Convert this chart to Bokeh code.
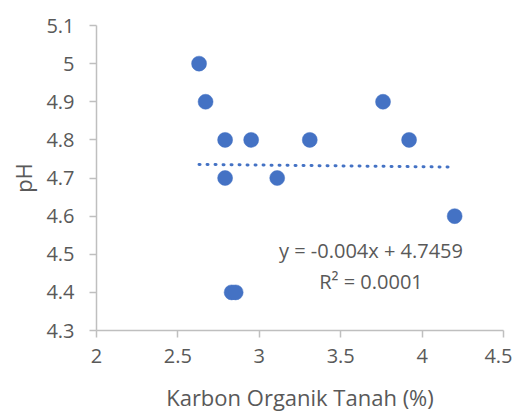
import numpy as np
from bokeh.plotting import figure
from bokeh.models import FixedTicker, ColumnDataSource
from bokeh.embed import file_html
from bokeh.resources import INLINE

# Data
karbon = [2.63, 2.67, 2.79, 2.79, 2.83, 2.855, 2.95, 3.11, 3.31, 3.76, 3.92, 4.2]
ph = [5.0, 4.9, 4.8, 4.7, 4.4, 4.4, 4.8, 4.7, 4.8, 4.9, 4.8, 4.6]

x_ticks = [2, 2.5, 3, 3.5, 4, 4.5]
x_tick_labels = ["2", "2.5", "3", "3.5", "4", "4.5"]
y_ticks = [4.3, 4.4, 4.5, 4.6, 4.7, 4.8, 4.9, 5, 5.1]
y_tick_labels = ["4.3", "4.4", "4.5", "4.6", "4.7", "4.8", "4.9", "5", "5.1"]

eq_text = ["y = -0.004x + 4.7459", "R\u00b2 = 0.0001"]
eq_x = [3.686, 3.686]
eq_y = [4.509, 4.429]

x_label = "Karbon Organik Tanah (%)"
y_label = "pH"

FONT = "Open Sans"
TXT = "#595959"
BLUE = "#4472C4"

p = figure(width=512, height=414, x_range=(2, 4.5), y_range=(4.3, 5.1),
           output_backend="svg", toolbar_location=None,
           min_border_left=96, min_border_right=9, min_border_top=25, min_border_bottom=84)
p.outline_line_color = None
p.grid.visible = False

# Trendline (least squares)
slope, intercept = np.polyfit(karbon, ph, 1)
tx = [min(karbon), max(karbon)]
ty = [slope * v + intercept for v in tx]
p.line(tx, ty, line_color=BLUE, line_width=3, line_dash="1 7", line_cap="round")

p.scatter(karbon, ph, size=15, fill_color=BLUE, line_color=BLUE, line_width=0.5)

src = ColumnDataSource(dict(x=eq_x, y=eq_y, t=eq_text))
p.text(x="x", y="y", text="t", source=src, text_align="center", text_baseline="middle",
       text_font={"value": FONT}, text_font_size="20px", text_color=TXT)

for ax, ticks, labels in ((p.xaxis[0], x_ticks, x_tick_labels), (p.yaxis[0], y_ticks, y_tick_labels)):
    ax.ticker = FixedTicker(ticks=ticks)
    ax.major_label_overrides = {(int(t) if float(t).is_integer() else t): l for t, l in zip(ticks, labels)}
    ax.axis_line_color = "#BFBFBF"
    ax.axis_line_width = 1.5
    ax.major_tick_line_color = "#BFBFBF"
    ax.major_tick_line_width = 1.5
    ax.major_tick_out = 7
    ax.major_tick_in = 0
    ax.minor_tick_line_color = None
    ax.major_label_text_font = FONT
    ax.major_label_text_font_size = "20px"
    ax.major_label_text_color = TXT
    ax.axis_label_text_font = FONT
    ax.axis_label_text_font_size = "22px"
    ax.axis_label_text_font_style = "normal"
    ax.axis_label_text_color = TXT

p.xaxis.axis_label = x_label
p.yaxis.axis_label = y_label
p.xaxis.major_label_standoff = 11
p.yaxis.major_label_standoff = 15
p.xaxis.axis_label_standoff = 16
p.yaxis.axis_label_standoff = 5

open("out.html", "w").write(file_html(p, INLINE))
